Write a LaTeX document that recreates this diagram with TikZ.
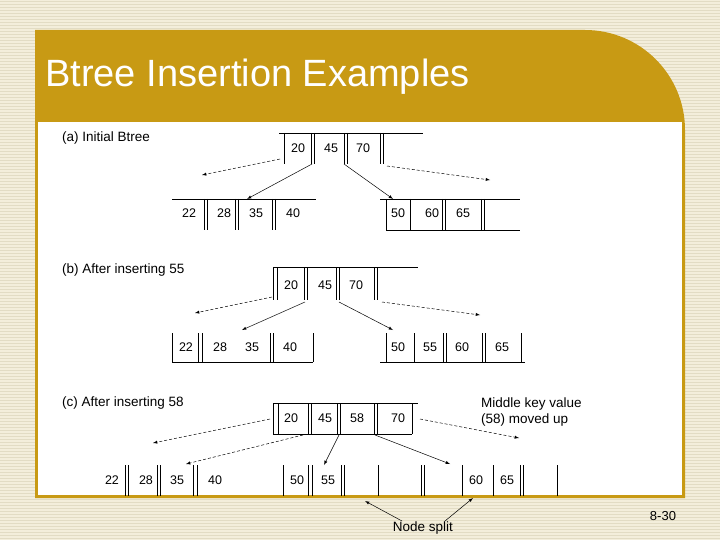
\documentclass[tikz,border=0pt]{standalone}
\usepackage{fontspec}
\setmainfont{Liberation Sans}
\definecolor{gold}{HTML}{C89A14}
\definecolor{bgc}{HTML}{F3EEDB}
\definecolor{stripe}{HTML}{E2DCC4}
\begin{document}
\begin{tikzpicture}[x=1pt,y=-1pt,
  ln/.style={line width=0.7pt},
  key/.style={font=\fontsize{12.5}{13}\selectfont,inner sep=0pt},
  lab/.style={font=\fontsize{13.5}{15}\selectfont,inner sep=0pt,anchor=west,align=left},
  arr/.style={-latex,line width=0.5pt},
  darr/.style={-latex,line width=0.5pt,dash pattern=on 3pt off 2pt}]
\useasboundingbox (0,0) rectangle (720,540);
\fill[bgc] (0,0) rectangle (720,540);
\foreach \y in {1,4,...,540} \draw[stripe,line width=0.4pt] (0,\y) -- (720,\y);
% header and panel
\fill[gold] (35,30) -- (585,30) arc[start angle=-90,end angle=0,radius=100] -- (685,498) -- (35,498) -- cycle;
\fill[white] (38,122) rectangle (682,495);
\node[anchor=west,text=white,font=\fontsize{38}{40}\selectfont,inner sep=0pt] (title) at (45,77) {Btree Insertion Examples};
\node[key,font=\fontsize{13}{14}\selectfont] (pg) at (663,516) {8-30};
% labels
\node[lab] (la) at (62,138) {(a) Initial Btree};
\node[lab] (lb) at (62,270) {(b) After inserting 55};
\node[lab] (lc) at (62,403) {(c) After inserting 58};
\node[lab,font=\fontsize{13.5}{16}\selectfont] (mk) at (481,412) {Middle key value\\(58) moved up};
\node[lab,anchor=center] (ns) at (423,528) {Node split};
% ---------- (a)
\draw[ln] (279,133) -- (423,133);
\foreach \x in {284,311,314,344,347,380,383} \draw[ln] (\x,133) -- (\x,164);
\node[key] (a1) at (298,148) {20};\node[key] (a2) at (331,148) {45};\node[key] (a3) at (363,148) {70};
\draw[ln] (172,199) -- (316,199);
\foreach \x in {204,207,235,238,272,275} \draw[ln] (\x,199) -- (\x,230);
\node[key] (a4) at (189,213) {22};\node[key] (a5) at (224,213) {28};\node[key] (a6) at (256,213) {35};\node[key] (a7) at (293,213) {40};
\draw[ln] (380,199) -- (520,199); \draw[ln] (386,230) -- (520,230);
\foreach \x in {386,410,442,445,481,484} \draw[ln] (\x,199) -- (\x,230);
\node[key] (a8) at (398,213) {50};\node[key] (a9) at (432,213) {60};\node[key] (a10) at (463,213) {65};
\coordinate (ap1) at (280,159); \coordinate (at1) at (202,175);
\coordinate (ap2) at (312,164); \coordinate (at2) at (247,199);
\coordinate (ap3) at (344,164); \coordinate (at3) at (393,199);
\coordinate (ap4) at (387,166); \coordinate (at4) at (490,180);
\draw[darr] (ap1) -- (at1); \draw[arr] (ap2) -- (at2); \draw[arr] (ap3) -- (at3); \draw[darr] (ap4) -- (at4);
% ---------- (b)
\draw[ln] (273,267) -- (418,267);
\foreach \x in {273,277,304,307,336,339,374,377} \draw[ln] (\x,267) -- (\x,300);
\node[key] (b1) at (291,285) {20};\node[key] (b2) at (325,285) {45};\node[key] (b3) at (356,285) {70};
\draw[ln] (172,362) -- (313,362);
\foreach \x in {172,198,202,270,273,313} \draw[ln] (\x,333) -- (\x,362);
\node[key] (b4) at (186,347) {22};\node[key] (b5) at (220,347) {28};\node[key] (b6) at (252,347) {35};\node[key] (b7) at (290,347) {40};
\draw[ln] (380,362) -- (525,362);
\foreach \x in {386,414,443,446,482,485,521} \draw[ln] (\x,333) -- (\x,362);
\node[key] (b8) at (398,347) {50};\node[key] (b9) at (430,347) {55};\node[key] (b10) at (462,347) {60};\node[key] (b11) at (502,347) {65};
\coordinate (bp1) at (272,297); \coordinate (bt1) at (195,313);
\coordinate (bp2) at (305,302); \coordinate (bt2) at (242,330);
\coordinate (bp3) at (339,302); \coordinate (bt3) at (393,330);
\coordinate (bp4) at (382,302); \coordinate (bt4) at (480,315);
\draw[darr] (bp1) -- (bt1); \draw[arr] (bp2) -- (bt2); \draw[arr] (bp3) -- (bt3); \draw[darr] (bp4) -- (bt4);
% ---------- (c)
\draw[ln] (273,403) -- (418,403); \draw[ln] (273,434) -- (412,434);
\foreach \x in {273,278,308,311,337,340,374,377,412} \draw[ln] (\x,403) -- (\x,434);
\node[key] (c1) at (291,418) {20};\node[key] (c2) at (325,418) {45};\node[key] (c3) at (357,418) {58};\node[key] (c4) at (398,418) {70};
\foreach \x in {125,128,157,160,193,197,283,308,312,341,344,378,421,424,462,493,520,523,557} \draw[ln] (\x,465) -- (\x,496);
\node[key] (c5) at (112,480) {22};\node[key] (c6) at (146,480) {28};\node[key] (c7) at (177,480) {35};\node[key] (c8) at (215,480) {40};
\node[key] (c9) at (297,480) {50};\node[key] (c10) at (328,480) {55};\node[key] (c11) at (476,480) {60};\node[key] (c12) at (507,480) {65};
\coordinate (cp1) at (270,419); \coordinate (ct1) at (153,443);
\coordinate (cp2) at (303,435); \coordinate (ct2) at (186,464);
\coordinate (cp3) at (339,435); \coordinate (ct3) at (324,465);
\coordinate (cp4) at (375,435); \coordinate (ct4) at (450,464);
\coordinate (cp5) at (420,419); \coordinate (ct5) at (519,438);
\draw[darr] (cp1) -- (ct1); \draw[darr] (cp2) -- (ct2); \draw[arr] (cp3) -- (ct3); \draw[arr] (cp4) -- (ct4); \draw[darr] (cp5) -- (ct5);
\coordinate (s1) at (365,501); \coordinate (s2) at (473,498);
\coordinate (n1) at (402,521); \coordinate (n2) at (445,521);
\draw[arr] (n1) -- (s1);
\draw[arr] (n2) -- (s2);
\end{tikzpicture}
\end{document}
